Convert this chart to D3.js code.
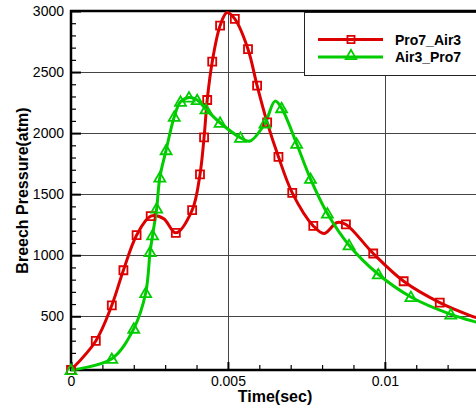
<!DOCTYPE html>
<html>
<head>
<meta charset="utf-8">
<script src="https://cdn.jsdelivr.net/npm/d3@7"></script>
<style>
  html, body { margin: 0; padding: 0; background: #fff; }
  svg { display: block; }
  text { font-family: "Liberation Sans", Arial, sans-serif; }
</style>
</head>
<body>
<svg id="chart" width="476" height="409"></svg>
<script>
// ---------- data ----------
const seriesNames = ["Pro7_Air3", "Air3_Pro7"];

// Pro7_Air3 curve (time in s, pressure in atm)
const redTime = [0, 0.00079, 0.0013, 0.00167, 0.00209, 0.00254, 0.00295, 0.00334, 0.00386, 0.00411, 0.00424, 0.00434, 0.0045, 0.00475, 0.00497, 0.00522, 0.00564, 0.00593, 0.00625, 0.00661, 0.00705, 0.00772, 0.00806, 0.00848, 0.00876, 0.00963, 0.0106, 0.01175, 0.0127, 0.013];
const redPress = [60, 298, 590, 877, 1164, 1320, 1300, 1183, 1369, 1662, 1965, 2271, 2585, 2880, 2988, 2935, 2687, 2389, 2088, 1806, 1511, 1240, 1178, 1268, 1252, 1014, 787, 612, 508, 482];
// Pro7_Air3 marker positions
const redMarkTime = [0, 0.00079, 0.0013, 0.00167, 0.00209, 0.00254, 0.00334, 0.00386, 0.00411, 0.00424, 0.00434, 0.0045, 0.00475, 0.00522, 0.00564, 0.00593, 0.00625, 0.00661, 0.00705, 0.00772, 0.00876, 0.00963, 0.0106, 0.01175];
const redMarkPress = [60, 298, 590, 877, 1164, 1320, 1183, 1369, 1662, 1965, 2271, 2585, 2880, 2935, 2687, 2389, 2088, 1806, 1511, 1240, 1252, 1014, 787, 612];

// Air3_Pro7 curve
const greenTime = [0, 0.0013, 0.002, 0.00238, 0.00252, 0.0026, 0.00273, 0.00283, 0.00303, 0.00329, 0.00349, 0.00376, 0.00402, 0.0043, 0.00475, 0.0054, 0.0057, 0.00618, 0.0065, 0.00671, 0.00719, 0.00763, 0.00817, 0.00886, 0.00979, 0.01083, 0.0121, 0.0129, 0.013];
const greenPress = [60, 152, 399, 691, 1027, 1164, 1383, 1637, 1861, 2134, 2257, 2292, 2271, 2195, 2085, 1962, 1935, 2080, 2262, 2205, 1913, 1626, 1342, 1082, 844, 658, 516, 453, 446];
// Air3_Pro7 marker positions
const greenMarkTime = [0, 0.0013, 0.002, 0.00238, 0.00252, 0.0026, 0.00273, 0.00283, 0.00303, 0.00329, 0.00349, 0.00376, 0.00402, 0.0043, 0.00475, 0.0054, 0.00618, 0.00671, 0.00719, 0.00763, 0.00817, 0.00886, 0.00979, 0.01083, 0.0121];
const greenMarkPress = [60, 152, 399, 691, 1027, 1164, 1383, 1637, 1861, 2134, 2257, 2292, 2271, 2195, 2085, 1962, 2080, 2205, 1913, 1626, 1342, 1082, 844, 658, 516];

// axes
const xDomain = [0, 0.013];
const yDomain = [60, 3000];
const xMajorTicks = [0, 0.005, 0.01];
const xTickLabels = ["0", "0.005", "0.01"];
const xMinorTicks = [0.001, 0.002, 0.003, 0.004, 0.006, 0.007, 0.008, 0.009, 0.011, 0.012];
const yMajorTicks = [500, 1000, 1500, 2000, 2500, 3000];
const yTickLabels = ["500", "1000", "1500", "2000", "2500", "3000"];
const yMinorTicks = [100, 200, 300, 400, 600, 700, 800, 900, 1100, 1200, 1300, 1400, 1600, 1700, 1800, 1900, 2100, 2200, 2300, 2400, 2600, 2700, 2800, 2900];
const xTitle = "Time(sec)";
const yTitle = "Breech Pressure(atm)";

// ---------- drawing ----------
const RED = "#dc0000", GREEN = "#00cc00";
const svg = d3.select("#chart");
const L = 71, R = 479, T = 11, B = 370;
const x = d3.scaleLinear().domain(xDomain).range([L, R]);
const y = d3.scaleLinear().domain(yDomain).range([B, T]);

svg.append("defs").append("clipPath").attr("id", "plotClip")
  .append("rect").attr("x", L).attr("y", T - 4).attr("width", R - L + 10).attr("height", B - T + 8);

// grid
const grid = svg.append("g");
grid.selectAll("line.h").data(yMajorTicks.filter(v => v < 3000)).join("line")
  .attr("x1", L).attr("x2", R).attr("y1", d => Math.round(y(d)) + 0.5).attr("y2", d => Math.round(y(d)) + 0.5)
  .attr("stroke", "#444").attr("stroke-width", 1);
grid.selectAll("line.v").data(xMajorTicks.filter(v => v > 0)).join("line")
  .attr("y1", T).attr("y2", B).attr("x1", d => Math.round(x(d)) + 0.5).attr("x2", d => Math.round(x(d)) + 0.5)
  .attr("stroke", "#444").attr("stroke-width", 1);

// axes via d3
const yAxis = d3.axisLeft(y).tickValues(yMajorTicks).tickSize(-10).tickPadding(7)
  .tickFormat((d, i) => yTickLabels[i]);
const gy = svg.append("g").attr("transform", `translate(${L},0)`).call(yAxis);
gy.select(".domain").remove();
gy.selectAll(".tick line").attr("stroke", "#000").attr("stroke-width", 2);
gy.selectAll(".tick text").attr("font-size", 14).attr("fill", "#000")
  .attr("font-family", "Liberation Sans, Arial, sans-serif");

const yMinor = d3.axisLeft(y).tickValues(yMinorTicks).tickSize(-5).tickFormat("");
const gym = svg.append("g").attr("transform", `translate(${L},0)`).call(yMinor);
gym.select(".domain").remove();
gym.selectAll(".tick line").attr("stroke", "#000").attr("stroke-width", 1.2);

const xAxis = d3.axisBottom(x).tickValues(xMajorTicks).tickSize(-8).tickPadding(6)
  .tickFormat((d, i) => xTickLabels[i]);
const gx = svg.append("g").attr("transform", `translate(0,${B})`).call(xAxis);
gx.select(".domain").remove();
gx.selectAll(".tick line").attr("stroke", "#000").attr("stroke-width", 2);
gx.selectAll(".tick text").attr("font-size", 14).attr("fill", "#000")
  .attr("font-family", "Liberation Sans, Arial, sans-serif");

const xMinor = d3.axisBottom(x).tickValues(xMinorTicks).tickSize(-5).tickFormat("");
const gxm = svg.append("g").attr("transform", `translate(0,${B})`).call(xMinor);
gxm.select(".domain").remove();
gxm.selectAll(".tick line").attr("stroke", "#000").attr("stroke-width", 1.2);

// frame lines
svg.append("line").attr("x1", L).attr("x2", L).attr("y1", T - 1).attr("y2", B + 1).attr("stroke", "#000").attr("stroke-width", 2.5);
svg.append("line").attr("x1", L - 1).attr("x2", R).attr("y1", B).attr("y2", B).attr("stroke", "#000").attr("stroke-width", 2.5);
svg.append("line").attr("x1", L - 1).attr("x2", R).attr("y1", T).attr("y2", T).attr("stroke", "#000").attr("stroke-width", 2.5);

// series
const series = [
  { name: seriesNames[0], color: RED, t: redTime, p: redPress, mt: redMarkTime, mp: redMarkPress, sym: d3.symbolSquare, size: 64 },
  { name: seriesNames[1], color: GREEN, t: greenTime, p: greenPress, mt: greenMarkTime, mp: greenMarkPress, sym: d3.symbolTriangle, size: 52 }
];
const line = d3.line().x(d => x(d[0])).y(d => y(d[1])).curve(d3.curveCatmullRom.alpha(0.5));
const plot = svg.append("g").attr("clip-path", "url(#plotClip)");
series.forEach(s => {
  const pts = s.t.map((t, i) => [t, s.p[i]]);
  plot.append("path").datum(pts).attr("d", line)
    .attr("fill", "none").attr("stroke", s.color).attr("stroke-width", 3).attr("stroke-linejoin", "round");
});
series.forEach(s => {
  const mpts = s.mt.map((t, i) => [t, s.mp[i]]);
  svg.append("g").selectAll("path").data(mpts).join("path")
    .attr("transform", d => `translate(${x(d[0])},${y(d[1]) + (s.sym === d3.symbolTriangle ? 1 : 0)})`)
    .attr("d", d3.symbol().type(s.sym).size(s.size))
    .attr("fill", "none").attr("stroke", s.color).attr("stroke-width", 1.8);
});

// legend
const lg = svg.append("g");
lg.append("rect").attr("x", 304.5).attr("y", 12.5).attr("width", 200).attr("height", 63)
  .attr("fill", "#fff").attr("stroke", "#222").attr("stroke-width", 1);
series.forEach((s, i) => {
  const ly = 39.5 + i * 17.5;
  lg.append("line").attr("x1", 318).attr("x2", 383).attr("y1", ly).attr("y2", ly)
    .attr("stroke", s.color).attr("stroke-width", 3);
  lg.append("path").attr("transform", `translate(351,${ly + (s.sym === d3.symbolTriangle ? -1 : 0)})`)
    .attr("d", d3.symbol().type(s.sym).size(s.sym === d3.symbolTriangle ? 48 : 50))
    .attr("fill", "none").attr("stroke", s.color).attr("stroke-width", 1.8);
  lg.append("text").attr("x", 395).attr("y", ly + 5).attr("font-size", 14).attr("font-weight", "bold")
    .attr("fill", "#000").text(s.name);
});

// titles
svg.append("text").attr("x", (L + R) / 2).attr("y", 402).attr("text-anchor", "middle")
  .attr("font-size", 16).attr("font-weight", "bold").attr("fill", "#000").text(xTitle);
svg.append("text").attr("transform", `translate(28,${(T + B) / 2}) rotate(-90)`).attr("text-anchor", "middle")
  .attr("font-size", 16).attr("font-weight", "bold").attr("fill", "#000").text(yTitle);
</script>
</body>
</html>
